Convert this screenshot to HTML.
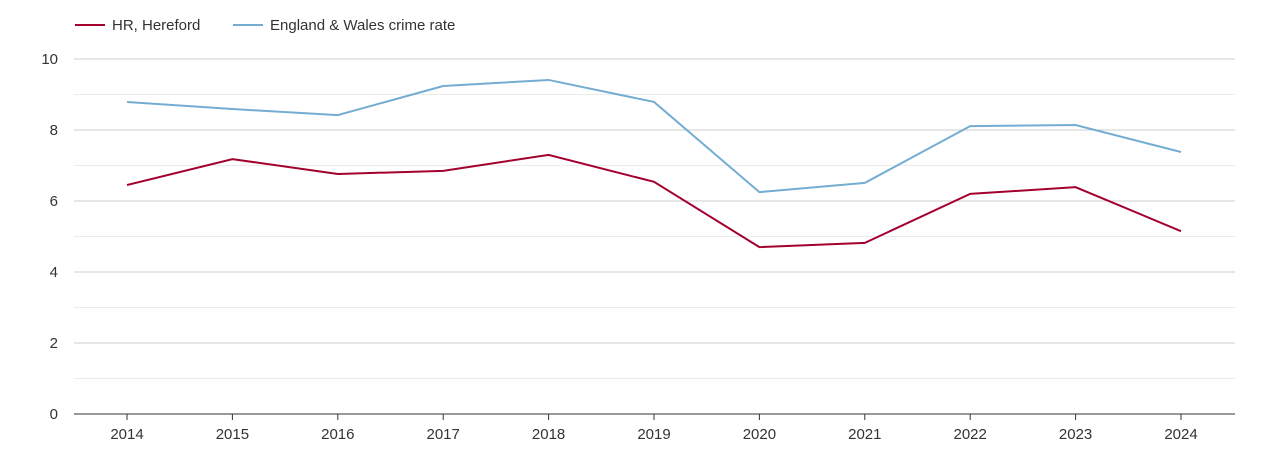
<!DOCTYPE html>
<html><head><meta charset="utf-8"><style>
body{margin:0;background:#fff;font-family:"Liberation Sans",Arial,sans-serif;}
svg text{font-family:"Liberation Sans",Arial,sans-serif;}
</style></head><body>
<svg id="chart" width="1270" height="450" xmlns="http://www.w3.org/2000/svg">
<g>
<g><line x1="75" y1="25" x2="105" y2="25" stroke="#a3002e" stroke-width="2"/><text x="112" y="30" font-size="15" fill="#333">HR, Hereford</text></g>
<g><line x1="233" y1="25" x2="263" y2="25" stroke="#74add1" stroke-width="2"/><text x="270" y="30" font-size="15" fill="#333">England &amp; Wales crime rate</text></g>
</g>
<g id="grid"></g>
<g id="yaxis"></g>
<g id="xaxis"></g>
<g id="series"></g>
</svg>
<script>
const years=[2014,2015,2016,2017,2018,2019,2020,2021,2022,2023,2024];
const hereford=[6.45,7.18,6.76,6.85,7.30,6.54,4.70,4.82,6.20,6.39,5.15];
const englandWales=[8.79,8.59,8.42,9.24,9.41,8.79,6.25,6.51,8.11,8.14,7.38];
const yTicks=[0,2,4,6,8,10];
const NS="http://www.w3.org/2000/svg";
const L=74,R=1235,T=59,B=414;
const x=i=>127+i*(1181-127)/(years.length-1);
const y=v=>B-(v/10)*(B-T);
function mk(tag,attrs,parent){const e=document.createElementNS(NS,tag);for(const k in attrs)e.setAttribute(k,attrs[k]);parent.appendChild(e);return e;}
const grid=document.getElementById('grid'),ya=document.getElementById('yaxis'),xa=document.getElementById('xaxis'),ser=document.getElementById('series');
for(let v=1;v<=10;v++){
  const g=mk('line',{x1:L,x2:R,y1:y(v),y2:y(v),stroke:v%2?'#ebebeb':'#cccccc','stroke-width':1},grid);
  
  
}
yTicks.forEach(v=>{
  const t=mk('text',{x:58,y:y(v)+5,'text-anchor':'end','font-size':15,fill:'#333'},ya);
  t.textContent=v;
  
  
});
const ax=mk('line',{x1:L,x2:R,y1:B,y2:B,stroke:'#333','stroke-width':1},xa);


years.forEach((yr,i)=>{
  const tk=mk('line',{x1:x(i),x2:x(i),y1:B,y2:B+6,stroke:'#333'},xa);
  
  
  const t=mk('text',{x:x(i),y:439,'text-anchor':'middle','font-size':15,fill:'#333'},xa);
  t.textContent=yr;
  
  
});
function line(data,color,name){
  const p=mk('polyline',{points:data.map((v,i)=>x(i)+','+y(v)).join(' '),fill:'none',stroke:color,'stroke-width':2},ser);
  
  
}
line(englandWales,'#74add1','england-wales-line');
line(hereford,'#a3002e','hereford-line');
</script>
</body></html>
